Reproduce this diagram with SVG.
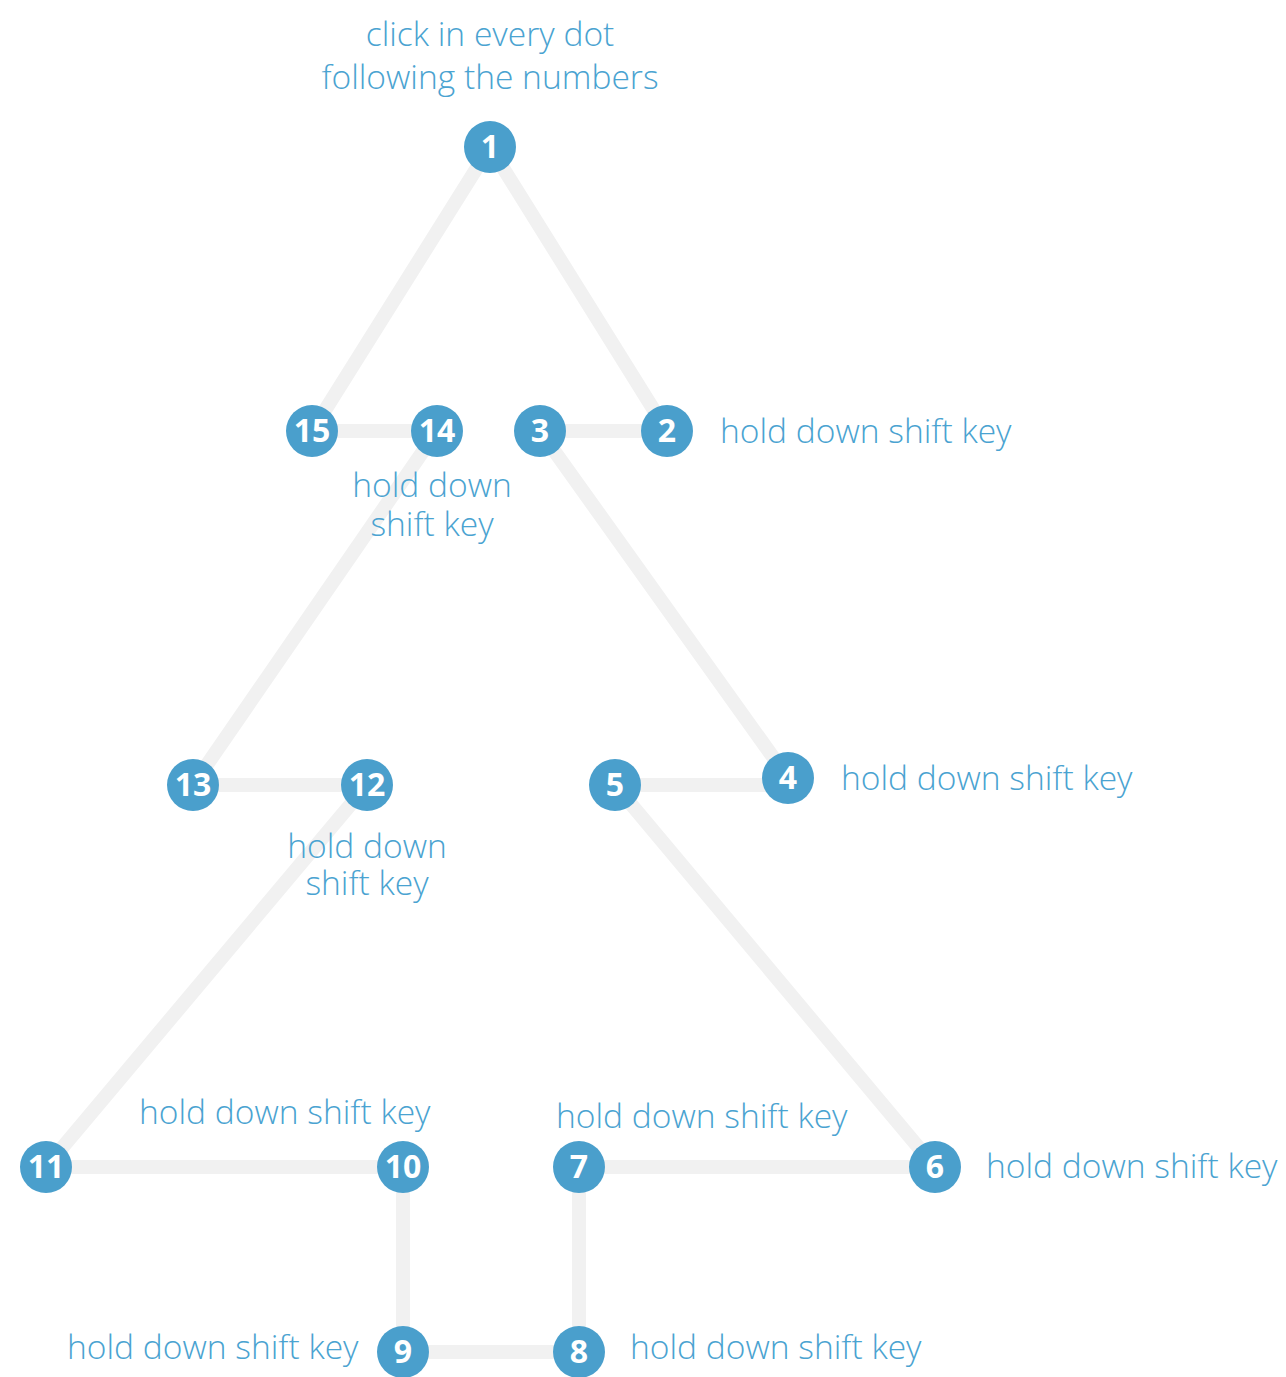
<svg xmlns="http://www.w3.org/2000/svg" width="1286" height="1377" viewBox="0 0 1286 1377">
<style>
.e{stroke:#f1f1f1;stroke-width:14;fill:none;stroke-linecap:butt;stroke-linejoin:round}
.d{fill:#4a9fcc}
.n{font-family:"Open Sans","Liberation Sans",sans-serif;font-weight:700;font-size:32px;fill:#fff;text-anchor:middle}
.t{font-family:"Open Sans","Liberation Sans",sans-serif;font-weight:300;font-size:33.6px;fill:#4aa3d1}
.c{text-anchor:middle}
</style>
<rect width="1286" height="1377" fill="#fff"/>
<g id="connectors">
<polyline class="e" points="490,147 667,431 540,431 788,778"/>
<polyline class="e" points="788,785 615,785 935,1167 579,1167 579,1352 403,1352 403,1167 46,1167 367,785 193,785 437,431 312,431 490,147"/>
</g>
<g id="labels">
<text class="t c" x="490" y="46">click in every dot</text>
<text class="t c" x="490" y="89">following the numbers</text>
<text class="t" x="720" y="443">hold down shift key</text>
<text class="t c" x="432" y="497">hold down</text>
<text class="t c" x="432" y="536">shift key</text>
<text class="t" x="841" y="790">hold down shift key</text>
<text class="t c" x="367" y="858">hold down</text>
<text class="t c" x="367" y="895">shift key</text>
<text class="t" x="139" y="1124">hold down shift key</text>
<text class="t" x="556" y="1128">hold down shift key</text>
<text class="t" x="986" y="1178">hold down shift key</text>
<text class="t" x="67" y="1359">hold down shift key</text>
<text class="t" x="630" y="1359">hold down shift key</text>
</g>
<g id="n1"><circle class="d" cx="490" cy="147" r="26"/><text class="n" x="490" y="158">1</text></g>
<g id="n2"><circle class="d" cx="667" cy="431" r="26"/><text class="n" x="667" y="442">2</text></g>
<g id="n3"><circle class="d" cx="540" cy="431" r="26"/><text class="n" x="540" y="442">3</text></g>
<g id="n4"><circle class="d" cx="788" cy="778" r="26"/><text class="n" x="788" y="789">4</text></g>
<g id="n5"><circle class="d" cx="615" cy="785" r="26"/><text class="n" x="615" y="796">5</text></g>
<g id="n6"><circle class="d" cx="935" cy="1167" r="26"/><text class="n" x="935" y="1178">6</text></g>
<g id="n7"><circle class="d" cx="579" cy="1167" r="26"/><text class="n" x="579" y="1178">7</text></g>
<g id="n8"><circle class="d" cx="579" cy="1352" r="26"/><text class="n" x="579" y="1363">8</text></g>
<g id="n9"><circle class="d" cx="403" cy="1352" r="26"/><text class="n" x="403" y="1363">9</text></g>
<g id="n10"><circle class="d" cx="403" cy="1167" r="26"/><text class="n" x="403" y="1178">10</text></g>
<g id="n11"><circle class="d" cx="46" cy="1167" r="26"/><text class="n" x="46" y="1178">11</text></g>
<g id="n12"><circle class="d" cx="367" cy="785" r="26"/><text class="n" x="367" y="796">12</text></g>
<g id="n13"><circle class="d" cx="193" cy="785" r="26"/><text class="n" x="193" y="796">13</text></g>
<g id="n14"><circle class="d" cx="437" cy="431" r="26"/><text class="n" x="437" y="442">14</text></g>
<g id="n15"><circle class="d" cx="312" cy="431" r="26"/><text class="n" x="312" y="442">15</text></g>
</svg>
